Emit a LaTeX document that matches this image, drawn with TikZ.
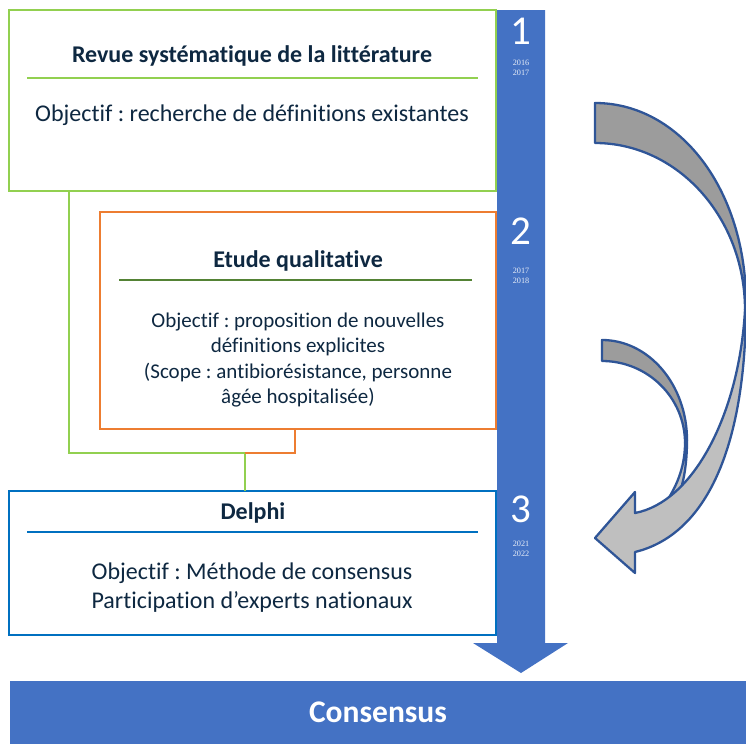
\documentclass[tikz,border=0pt]{standalone}
\usepackage{fontspec}
\setmainfont{Carlito}[Ligatures=NoCommon]
\newfontfamily\yearfont{Liberation Serif}
\frenchspacing
\definecolor{barblue}{HTML}{4472C4}
\definecolor{boxgreen}{HTML}{92D050}
\definecolor{boxorange}{HTML}{ED7D31}
\definecolor{boxblue}{HTML}{0070C0}
\definecolor{rulegreen}{HTML}{548235}
\definecolor{navy}{HTML}{0E2841}
\definecolor{arrowline}{HTML}{2F5597}
\definecolor{backgray}{HTML}{9C9C9C}
\definecolor{frontgray}{HTML}{BFBFBF}
\begin{document}
\begin{tikzpicture}[x=1pt,y=-1pt,
  box/.style={draw, line width=2.8pt, fill=white, anchor=north west,
    inner sep=0pt, outer sep=0pt},
  boxtitle/.style={font=\fontsize{24}{29}\selectfont\bfseries, text=navy},
  boxbody/.style={font=\fontsize{24}{29}\selectfont, text=navy, align=center},
  boxbodysmall/.style={font=\fontsize{21}{25.3}\selectfont, text=navy, align=center},
  rulerline/.style={line width=2.6pt},
  conn/.style={line width=2.8pt},
  stepnum/.style={font=\fontsize{41}{41}\selectfont, text=white},
  years/.style={font=\yearfont\fontsize{8.2}{10}\selectfont, text=white!88!barblue, align=center},
  curved/.style={draw=arrowline, line width=2.3pt, line join=round}]
\useasboundingbox (0,0) rectangle (746,744);

% timeline arrow
\fill[barblue] (497,10) -- (545,10) -- (545,643) -- (568,643) -- (521,673)
  -- (473,643) -- (497,643) -- cycle;

% step numbers and years
\node[stepnum] (n1) at (521,31) {1};
\node[years] (y1) at (521,68) {2016\\2017};
\node[stepnum] (n2) at (521,231) {2};
\node[years] (y2) at (521,276) {2017\\2018};
\node[stepnum] (n3) at (521,509) {3};
\node[years] (y3) at (521,549) {2021\\2022};

% boxes
\node[box, draw=boxgreen, minimum width=487pt, minimum height=181pt] (box1) at (9,10) {};
\node[box, draw=boxorange, minimum width=396pt, minimum height=217pt] (box2) at (100,212) {};
\node[box, draw=boxblue, minimum width=487pt, minimum height=144pt] (box3) at (9,491) {};

% links between the boxes
\coordinate (jn) at (245,453);
\draw[conn, boxgreen] ([xshift=60pt]box1.south west) |- (jn) -- (jn |- box3.north);
\draw[conn, boxorange] ([xshift=195pt]box2.south west) |- (jn);

% box 1
\node[boxtitle] (t1) at (252,56) {Revue systématique de la littérature};
\draw[rulerline, boxgreen] (27,78) -- (478,78);
\node[boxbody] (b1) at (252,115) {Objectif : recherche de définitions existantes};

% box 2
\node[boxtitle] (t2) at (298,261) {Etude qualitative};
\draw[rulerline, rulegreen] (119,280) -- (472,280);
\node[boxbodysmall] (b2) at (298,360) {Objectif : proposition de nouvelles\\définitions explicites\\(Scope : antibiorésistance, personne\\âgée hospitalisée)};

% box 3
\node[boxtitle] (t3) at (253,513) {Delphi};
\draw[rulerline, boxblue] (27,532) -- (478,532);
\node[boxbody] (b3) at (252,588) {Objectif : Méthode de consensus\\Participation d’experts nationaux};

% small curved arrow (behind)
\path[curved, fill=backgray] (602,340) .. controls (649,340) and (687,385) .. (687,440)
  -- (685,443) .. controls (685,398) and (648,361) .. (602,361) -- cycle;
\path[curved, fill=frontgray] (687,440) .. controls (687,475) and (680,500) .. (668,515)
  -- (652,520) .. controls (670,500) and (685,475) .. (685,443) -- cycle;

% large curved arrow
\path[curved, fill=backgray] (595,103) .. controls (680,103) and (746,190) .. (746,303)
  -- (745,310) .. controls (745,218) and (678,143) .. (595,143) -- cycle;
\path[curved, fill=frontgray] (746,303) .. controls (746,450) and (705,535) .. (635,552)
  -- (635,573) -- (595,538) -- (635,492) -- (635,513)
  .. controls (693,502) and (739,415) .. (745,310) -- cycle;

% result bar
\node[fill=barblue, anchor=north west, minimum width=736pt, minimum height=63pt,
  inner sep=0pt, outer sep=0pt] (cons) at (10,681) {};
\node[font=\fontsize{31.5}{36}\selectfont\bfseries, text=white] (ct) at (cons.center) {Consensus};
\end{tikzpicture}
\end{document}
